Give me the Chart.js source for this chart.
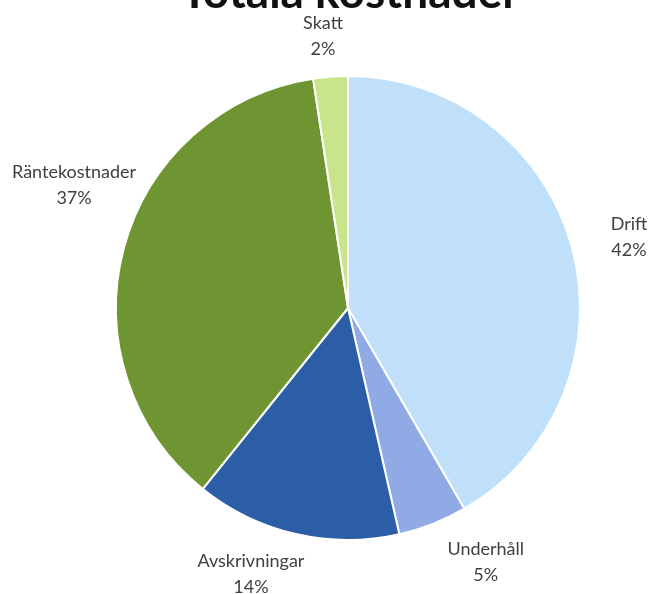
<!DOCTYPE html>
<html>
<head>
<meta charset="utf-8">
<script src="https://cdn.jsdelivr.net/npm/chart.js@4/dist/chart.umd.min.js"></script>
<style>
  html, body { margin: 0; padding: 0; background: #fff; }
  #wrap { width: 648px; height: 594px; position: relative; }
</style>
</head>
<body>
<div id="wrap"><canvas id="chart"></canvas></div>
<script>
const title = 'Totala kostnader';
const labels = ['Drift', 'Underhåll', 'Avskrivningar', 'Räntekostnader', 'Skatt'];
const values = [41.6, 4.8, 14.3, 36.8, 2.4];
const colors = ['#BFE0F8', '#8FAAE4', '#2C5EA8', '#6E9531', '#C8E58C'];

// outside labels: name on one line, rounded percent below,
// box pushed out from the pie edge roughly like Excel's best fit
const outsideLabels = {
    id: 'outsideLabels',
    afterDatasetsDraw(chart) {
        const ctx = chart.ctx;
        const meta = chart.getDatasetMeta(0);
        const total = values.reduce((a, b) => a + b, 0);
        const W = chart.width;
        const lineGap = 26;
        const boxH = 46;
        ctx.save();
        ctx.fillStyle = '#404040';
        ctx.font = '18px Lato';
        ctx.textAlign = 'center';
        ctx.textBaseline = 'middle';
        meta.data.forEach((arc, i) => {
            const mid = (arc.startAngle + arc.endAngle) / 2;
            const cos = Math.cos(mid), sin = Math.sin(mid);
            const pct = Math.round(values[i] / total * 100) + '%';
            const w = Math.max(ctx.measureText(labels[i]).width, ctx.measureText(pct).width);
            const hx = Math.max(-1, Math.min(1, cos * 3));
            let x = arc.x + cos * (arc.outerRadius + 40) + hx * w / 2;
            x = Math.max(12 + w / 2, Math.min(W - w / 2, x));
            let y = arc.y + sin * (arc.outerRadius + 18) + sin * boxH / 2;
            // nudge away vertically while the box still touches the pie
            const dir = sin < 0 ? -1 : 1;
            for (let k = 0; k < 80; k++) {
                const nx = Math.max(x - w / 2, Math.min(x + w / 2, arc.x));
                const ny = Math.max(y - boxH / 2, Math.min(y + boxH / 2, arc.y));
                if (Math.hypot(nx - arc.x, ny - arc.y) > arc.outerRadius + 2) break;
                y += dir;
            }
            ctx.fillText(labels[i], x, y - lineGap / 2);
            ctx.fillText(pct, x, y + lineGap / 2);
        });
        // title, mostly cut off by the top edge as in the source
        ctx.fillStyle = '#111111';
        ctx.font = 'bold 46px Lato';
        ctx.textBaseline = 'alphabetic';
        ctx.fillText(title, 350, 8);
        ctx.restore();
    }
};

new Chart(document.getElementById('chart'), {
    type: 'pie',
    data: {
        labels: labels,
        datasets: [{
            data: values,
            backgroundColor: colors,
            borderColor: '#ffffff',
            borderWidth: 2
        }]
    },
    options: {
        responsive: true,
        maintainAspectRatio: false,
        animation: false,
        layout: {
            padding: { top: 75, bottom: 53, left: 115, right: 67 }
        },
        plugins: {
            legend: { display: false },
            tooltip: { enabled: false }
        }
    },
    plugins: [outsideLabels]
});
</script>
</body>
</html>
